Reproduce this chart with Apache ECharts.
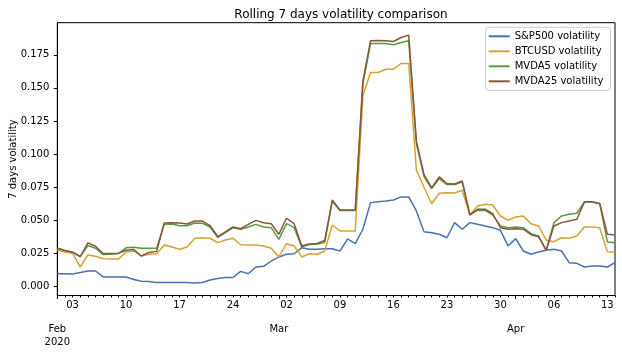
<!DOCTYPE html>
<html>
<head>
<meta charset="utf-8">
<script src="https://cdn.jsdelivr.net/npm/echarts@6/dist/echarts.min.js"></script>
<style>
html, body { margin: 0; padding: 0; background: #fff; }
#main { width: 622px; height: 353px; }
</style>
</head>
<body>
<div id="main"></div>
<script>
// daily dates, Feb 1 - Apr 14 2020
var dates = [
  '2020-02-01','2020-02-02','2020-02-03','2020-02-04','2020-02-05','2020-02-06','2020-02-07','2020-02-08','2020-02-09','2020-02-10',
  '2020-02-11','2020-02-12','2020-02-13','2020-02-14','2020-02-15','2020-02-16','2020-02-17','2020-02-18','2020-02-19','2020-02-20',
  '2020-02-21','2020-02-22','2020-02-23','2020-02-24','2020-02-25','2020-02-26','2020-02-27','2020-02-28','2020-02-29',
  '2020-03-01','2020-03-02','2020-03-03','2020-03-04','2020-03-05','2020-03-06','2020-03-07','2020-03-08','2020-03-09','2020-03-10',
  '2020-03-11','2020-03-12','2020-03-13','2020-03-14','2020-03-15','2020-03-16','2020-03-17','2020-03-18','2020-03-19','2020-03-20',
  '2020-03-21','2020-03-22','2020-03-23','2020-03-24','2020-03-25','2020-03-26','2020-03-27','2020-03-28','2020-03-29','2020-03-30',
  '2020-03-31','2020-04-01','2020-04-02','2020-04-03','2020-04-04','2020-04-05','2020-04-06','2020-04-07','2020-04-08','2020-04-09',
  '2020-04-10','2020-04-11','2020-04-12','2020-04-13','2020-04-14'
];

var spx = [
  0.0097,0.0097,0.0095,0.0106,0.0118,0.0118,0.0073,0.0073,0.0073,0.0073,
  0.0054,0.0040,0.0039,0.0031,0.0031,0.0032,0.0032,0.0031,0.0027,0.0031,
  0.0050,0.0061,0.0069,0.0069,0.0115,0.0097,0.0148,0.0153,0.0193,0.0224,
  0.0244,0.0248,0.0294,0.0282,0.0282,0.0286,0.0286,0.0269,0.0360,0.0324,
  0.0433,0.0634,0.0641,0.0646,0.0654,0.0677,0.0677,0.0571,0.0415,0.0407,
  0.0395,0.0369,0.0483,0.0433,0.0483,0.0470,0.0458,0.0445,0.0425,0.0307,
  0.0362,0.0269,0.0244,0.0261,0.0274,0.0282,0.0269,0.0181,0.0176,0.0148,
  0.0156,0.0156,0.0148,0.0181
];
var btc = [
  0.0275,0.0262,0.0252,0.0148,0.0239,0.0229,0.0211,0.0208,0.0208,0.0261,
  0.0269,0.0231,0.0244,0.0248,0.0314,0.0299,0.0282,0.0299,0.0365,0.0369,
  0.0365,0.0332,0.0352,0.0365,0.0316,0.0314,0.0314,0.0307,0.0289,0.0224,
  0.0324,0.0307,0.0224,0.0248,0.0244,0.0269,0.0465,0.0420,0.0420,0.0420,
  0.1440,0.1616,0.1616,0.1641,0.1641,0.1684,0.1684,0.0880,0.0750,0.0626,
  0.0705,0.0709,0.0707,0.0727,0.0541,0.0609,0.0622,0.0616,0.0533,0.0501,
  0.0526,0.0533,0.0475,0.0458,0.0350,0.0339,0.0369,0.0365,0.0382,0.0450,
  0.0450,0.0445,0.0264,0.0261
];
var mvda5 = [
  0.0290,0.0272,0.0260,0.0228,0.0310,0.0290,0.0242,0.0244,0.0250,0.0293,
  0.0298,0.0290,0.0290,0.0290,0.0470,0.0472,0.0460,0.0460,0.0480,0.0478,
  0.0450,0.0370,0.0407,0.0445,0.0433,0.0450,0.0470,0.0450,0.0445,0.0357,
  0.0475,0.0445,0.0300,0.0318,0.0322,0.0332,0.0645,0.0574,0.0574,0.0574,
  0.1530,0.1835,0.1835,0.1835,0.1825,0.1842,0.1855,0.1080,0.0830,0.0740,
  0.0815,0.0770,0.0770,0.0790,0.0541,0.0575,0.0575,0.0540,0.0458,0.0445,
  0.0450,0.0445,0.0400,0.0382,0.0274,0.0483,0.0533,0.0546,0.0554,0.0639,
  0.0639,0.0626,0.0337,0.0332
];
var mvda25 = [
  0.0290,0.0272,0.0260,0.0225,0.0330,0.0305,0.0250,0.0250,0.0252,0.0275,
  0.0280,0.0231,0.0258,0.0266,0.0480,0.0483,0.0480,0.0473,0.0495,0.0495,
  0.0460,0.0378,0.0413,0.0450,0.0437,0.0470,0.0500,0.0482,0.0475,0.0395,
  0.0516,0.0475,0.0307,0.0322,0.0326,0.0348,0.0655,0.0578,0.0578,0.0578,
  0.1550,0.1855,0.1858,0.1855,0.1850,0.1880,0.1898,0.1100,0.0845,0.0747,
  0.0828,0.0778,0.0775,0.0797,0.0541,0.0584,0.0584,0.0550,0.0445,0.0433,
  0.0437,0.0433,0.0392,0.0376,0.0274,0.0458,0.0483,0.0495,0.0508,0.0640,
  0.0640,0.0628,0.0395,0.0390
];

var seriesNames = ['S&P500 volatility', 'BTCUSD volatility', 'MVDA5 volatility', 'MVDA25 volatility'];
var colors = ['#4a72b0', '#d9a22c', '#5a9a45', '#8b573a'];

var yTicks = [0, 0.025, 0.05, 0.075, 0.1, 0.125, 0.15, 0.175];
// weekly day labels (Mondays) and month labels
var weekTickDates = ['2020-02-03','2020-02-10','2020-02-17','2020-02-24','2020-03-02','2020-03-09',
                     '2020-03-16','2020-03-23','2020-03-30','2020-04-06','2020-04-13'];
var monthTickDates = ['2020-02-01', '2020-03-01', '2020-04-01'];
var monthTickLabels = ['Feb\n2020', 'Mar', 'Apr'];

var FONT = 'DejaVu Sans';
var myChart = echarts.init(document.getElementById('main'));

var allSeries = [spx, btc, mvda5, mvda25].map(function (d, i) {
    return {
        name: seriesNames[i],
        type: 'line',
        data: d,
        symbol: 'none',
        showSymbol: false,
        color: colors[i],
        lineStyle: { width: 1.5, color: colors[i] },
        emphasis: { disabled: true }
    };
});

var option = {
    animation: false,
    backgroundColor: '#fff',
    textStyle: { fontFamily: FONT },
    title: {
        text: 'Rolling 7 days volatility comparison',
        left: 336,
        top: 4,
        textAlign: 'center',
        textStyle: { fontFamily: FONT, fontSize: 12, fontWeight: 'normal', color: '#000' }
    },
    legend: {
        data: seriesNames,
        orient: 'vertical',
        left: 485.7,
        top: 27.3,
        padding: [3, 7, 3, 3],
        itemGap: 3,
        itemWidth: 21,
        itemHeight: 2,
        icon: 'rect',
        borderColor: '#cccccc',
        borderWidth: 1,
        borderRadius: 3,
        backgroundColor: 'rgba(255,255,255,0.8)',
        textStyle: { fontFamily: FONT, fontSize: 10, color: '#000', lineHeight: 12 }
    },
    grid: {
        left: 57.3,
        right: 7,
        top: 22.7,
        bottom: 57.5,
        show: true,
        borderColor: '#000',
        borderWidth: 1,
        containLabel: false,
        outerBoundsMode: 'none'
    },
    xAxis: [
        {
            type: 'category',
            data: dates,
            boundaryGap: false,
            axisLine: { onZero: false, lineStyle: { color: '#000', width: 1 } },
            axisTick: { interval: 0, length: 2, lineStyle: { color: '#000' } },
            axisLabel: {
                interval: function (idx, val) { return weekTickDates.indexOf(val) >= 0; },
                formatter: function (val) { return val.slice(8, 10); },
                margin: 4,
                fontFamily: FONT,
                fontSize: 10,
                lineHeight: 12,
                color: '#000'
            },
            splitLine: { show: false }
        },
        {
            type: 'category',
            data: dates,
            boundaryGap: false,
            position: 'bottom',
            axisLine: { show: false, onZero: false },
            axisTick: {
                interval: function (idx, val) { return monthTickDates.indexOf(val) >= 0; },
                length: 3.5,
                lineStyle: { color: '#000' }
            },
            axisLabel: {
                interval: function (idx, val) { return monthTickDates.indexOf(val) >= 0; },
                formatter: function (val) { return monthTickLabels[monthTickDates.indexOf(val)]; },
                alignMinLabel: 'center',
                margin: 27,
                fontFamily: FONT,
                fontSize: 10,
                lineHeight: 13,
                color: '#000'
            },
            splitLine: { show: false }
        }
    ],
    yAxis: {
        type: 'value',
        min: -0.0067,
        max: 0.1992,
        name: '7 days volatility',
        nameLocation: 'middle',
        nameGap: 39,
        nameMoveOverlap: false,
        nameTextStyle: { fontFamily: FONT, fontSize: 10, color: '#000' },
        axisLine: { show: true, lineStyle: { color: '#000', width: 1 } },
        axisTick: { show: true, length: 3.5, customValues: yTicks, lineStyle: { color: '#000' } },
        axisLabel: {
            customValues: yTicks,
            formatter: function (v) { return v.toFixed(3); },
            margin: 8,
            fontFamily: FONT,
            fontSize: 10,
            color: '#000'
        },
        splitLine: { show: false }
    },
    series: allSeries
};
myChart.setOption(option);
window.onresize = myChart.resize;
</script>
</body>
</html>
